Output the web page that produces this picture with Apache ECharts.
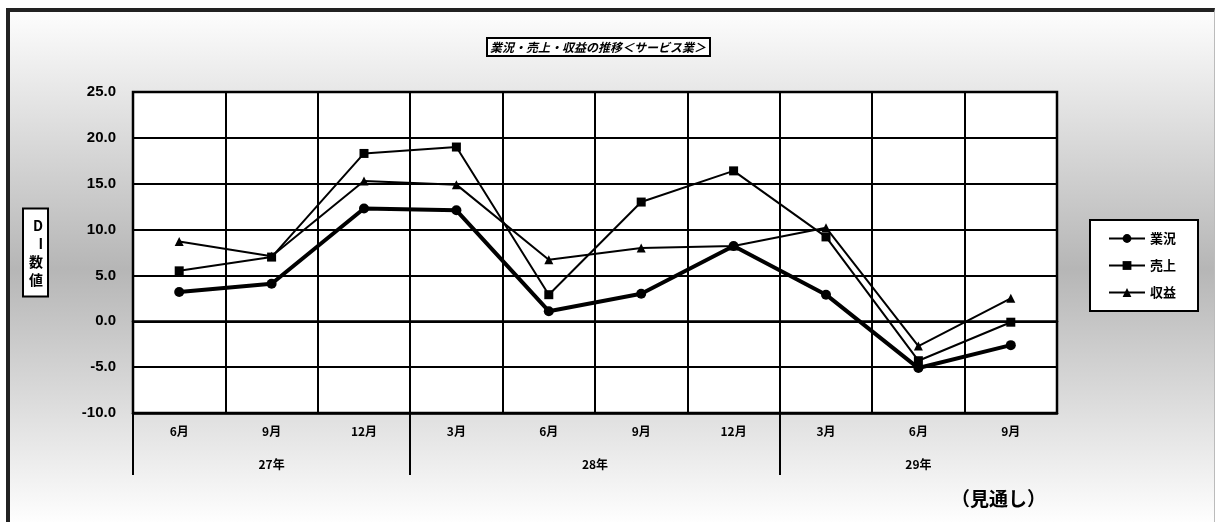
<!DOCTYPE html>
<html>
<head>
<meta charset="utf-8">
<script src="https://cdn.jsdelivr.net/npm/echarts@6/dist/echarts.min.js"></script>
<style>
  html, body { margin: 0; padding: 0; background: #fff; }
  .frame {
    position: absolute; left: 6px; top: 8px; width: 1204px; height: 514px;
    border-top: 4px solid #222; border-left: 4px solid #222; border-right: 1px solid #bbb;
    background: linear-gradient(#fdfdfd 0%, #b6b6b6 50%, #ffffff 100%);
  }
  #chart { position: absolute; left: 0; top: 0; width: 1215px; height: 522px; }
</style>
</head>
<body>
<div class="frame"></div>
<div id="chart"></div>
<script>
const months = ['6月', '9月', '12月', '3月', '6月', '9月', '12月', '3月', '6月', '9月']
const years = ['27年', '28年', '29年']
const yearSpans = [3, 4, 3]
const gyokyo = [3.2, 4.1, 12.3, 12.1, 1.1, 3.0, 8.2, 2.9, -5.1, -2.6]
const uriage = [5.5, 7.0, 18.3, 19.0, 2.9, 13.0, 16.4, 9.2, -4.3, -0.1]
const shueki = [8.7, 7.1, 15.3, 14.9, 6.7, 8.0, 8.2, 10.2, -2.7, 2.5]
const yMin = -10
const yMax = 25
const yStep = 5

const jp = '"Noto Sans CJK JP", sans-serif'
const narrow = '"Liberation Sans Narrow", "Liberation Sans", sans-serif'

// year group boundaries and centres, from the spans
const yearEdges = [0]
yearSpans.forEach(s => yearEdges.push(yearEdges[yearEdges.length - 1] + s))
const yearCenters = yearSpans.map((s, i) => yearEdges[i] + s / 2)

const chart = echarts.init(document.getElementById('chart'))
const option = {
  animation: false,
  backgroundColor: 'transparent',
  title: [
    {
      text: '業況・売上・収益の推移＜サービス業＞',
      left: 487,
      top: 38,
      padding: [3, 4, 3, 3],
      borderColor: '#000',
      borderWidth: 2,
      backgroundColor: '#fff',
      textStyle: { fontFamily: jp, fontSize: 12, fontWeight: 'bold', fontStyle: 'italic', color: '#000', letterSpacing: -0.3 }
    },
    {
      text: '（見通し）',
      left: 946,
      top: 484,
      textStyle: { fontFamily: jp, fontSize: 19, fontWeight: 'bold', color: '#000' }
    }
  ],
  legend: {
    orient: 'vertical',
    left: 1090,
    top: 220,
    padding: [12, 22, 12, 18],
    itemGap: 14,
    itemWidth: 36,
    itemHeight: 11,
    borderColor: '#000',
    borderWidth: 2,
    backgroundColor: '#fff',
    textStyle: { fontFamily: jp, fontSize: 13, fontWeight: 'bold', color: '#000' }
  },
  grid: {
    left: 133,
    right: 158,
    top: 92,
    bottom: 109,
    show: true,
    backgroundColor: '#fff',
    borderColor: '#000',
    borderWidth: 2.5
  },
  xAxis: [
    {
      type: 'category',
      data: months,
      axisLine: { onZero: true, lineStyle: { color: '#000', width: 2.5 } },
      axisTick: { alignWithLabel: true, length: 5, lineStyle: { color: '#000', width: 2 } },
      axisLabel: { show: false },
      splitLine: { show: false }
    },
    {
      type: 'category',
      data: months,
      position: 'bottom',
      axisLine: { onZero: false, lineStyle: { color: '#000', width: 2.5 } },
      axisTick: { length: 32, interval: 0, lineStyle: { color: '#000', width: 2 } },
      axisLabel: { margin: 12, interval: 0, fontFamily: jp, fontSize: 12, fontWeight: 'bold', color: '#000' },
      splitLine: { show: true, interval: 0, lineStyle: { color: '#000', width: 2 } }
    },
    {
      type: 'value',
      min: 0,
      max: months.length,
      position: 'bottom',
      axisLine: { show: false, onZero: false },
      axisTick: { show: true, customValues: yearEdges.slice(0, -1), length: 62, lineStyle: { color: '#000', width: 2 } },
      axisLabel: {
        customValues: yearCenters,
        margin: 45,
        fontFamily: jp, fontSize: 12, fontWeight: 'bold', color: '#000',
        formatter: v => years[yearCenters.indexOf(v)] || ''
      },
      splitLine: { show: false }
    }
  ],
  yAxis: {
    type: 'value',
    min: yMin,
    max: yMax,
    interval: yStep,
    name: 'D\nI\n数\n値',
    nameLocation: 'middle',
    nameRotate: 0,
    nameGap: 86,
    nameTextStyle: {
      fontFamily: jp, fontSize: 14, fontWeight: 'bold', color: '#000', lineHeight: 18,
      borderColor: '#000', borderWidth: 2, backgroundColor: '#fff', padding: [8, 4, 6, 5]
    },
    axisLine: { show: false },
    axisTick: { show: false },
    axisLabel: {
      margin: 17, fontFamily: narrow, fontSize: 15, fontWeight: 'bold', color: '#000',
      formatter: v => v.toFixed(1)
    },
    splitLine: { lineStyle: { color: '#000', width: 2 } }
  },
  series: [
    {
      name: '業況', type: 'line', data: gyokyo,
      symbol: 'circle', symbolSize: 10,
      lineStyle: { color: '#000', width: 4 }, itemStyle: { color: '#000' }
    },
    {
      name: '売上', type: 'line', data: uriage,
      symbol: 'rect', symbolSize: 9,
      lineStyle: { color: '#000', width: 2 }, itemStyle: { color: '#000' }
    },
    {
      name: '収益', type: 'line', data: shueki,
      symbol: 'triangle', symbolSize: 9,
      lineStyle: { color: '#000', width: 2 }, itemStyle: { color: '#000' }
    }
  ]
}
chart.setOption(option)
</script>
</body>
</html>
